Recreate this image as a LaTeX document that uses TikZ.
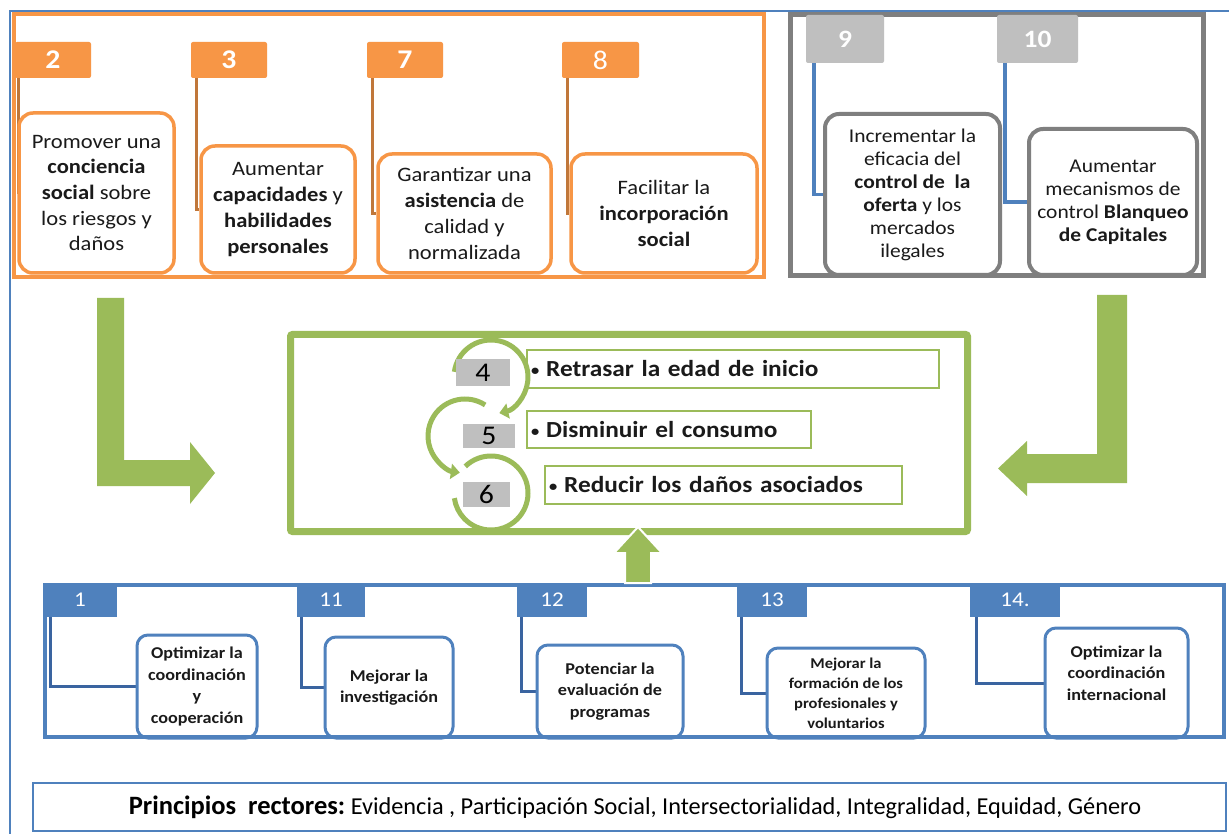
\documentclass[tikz,border=0pt]{standalone}
\usepackage{fontspec}
\setmainfont{Carlito}[FakeStretch=1.1]
\newfontfamily\plainfont{Carlito}
\usetikzlibrary{arrows.meta}
\pgfdeclarelayer{background}
\pgfsetlayers{background,main}
\definecolor{orng}{HTML}{F79646}
\definecolor{orngdk}{HTML}{C0773A}
\definecolor{grytab}{HTML}{BFBFBF}
\definecolor{gryfr}{HTML}{7F7F7F}
\definecolor{grn}{HTML}{9BBB59}
\definecolor{blu}{HTML}{4F81BD}
\definecolor{bludk}{HTML}{3A64A0}
\definecolor{txt}{HTML}{1A1A1A}
\newcommand\otxtfont{\fontsize{20.5}{25.7}\selectfont}
\newcommand\gtxtfont{\fontsize{19.5}{23}\selectfont}
\newcommand\btxtfont{\fontsize{16.5}{21.5}\selectfont\bfseries}
\newcommand\smbul{{\fontsize{15}{15}\selectfont\raisebox{1pt}{\textbullet}}\hspace{7pt}}
\begin{document}
\begin{tikzpicture}[x=1pt,y=-1pt,
  obox/.style={draw=orng, line width=3.5pt, fill=white, rounded corners=14pt, align=center, text=txt, font=\otxtfont, inner sep=0pt},
  gbox/.style={draw=gryfr, line width=4pt, fill=white, rounded corners=14pt, align=center, text=txt, font=\gtxtfont, inner sep=0pt},
  bbox/.style={draw=blu, line width=3pt, fill=white, rounded corners=11pt, align=center, text=txt, font=\btxtfont, inner sep=0pt},
  otab/.style={fill=orng, rounded corners=2pt, text=white, font=\fontsize{27}{27}\selectfont\bfseries, minimum height=36pt, inner sep=0pt},
  gtab/.style={fill=grytab, rounded corners=2pt, text=white, font=\fontsize{25}{25}\selectfont\bfseries, minimum height=48pt, inner sep=0pt},
  btab/.style={fill=blu, text=white, font=\fontsize{21}{21}\selectfont, minimum height=34pt, inner sep=0pt},
  oconn/.style={draw=orngdk, line width=3pt},
  gconn/.style={draw=blu, line width=3.5pt},
  bconn/.style={draw=bludk, line width=3pt},
  gtxt/.style={draw=grn, line width=1.5pt, fill=white, align=left, inner sep=4pt, text=txt, font=\fontsize{23}{24}\selectfont\bfseries},
  nbox/.style={fill=grytab, text=black, font=\fontsize{27}{27}\selectfont, inner sep=0pt},
  carc/.style={draw=grn, line width=5pt},
  garrow/.style={fill=grn}
]
\begin{pgfonlayer}{background}
\fill[white] (0,0) rectangle (1229,834);
\end{pgfonlayer}
\useasboundingbox (0,0) rectangle (1229,834);

% outer thin frame
\draw[blu, line width=2pt] (10,834) -- (10,11) -- (1229,11);

% orange group
\draw[orng, line width=4pt] (14,14.5) rectangle (763.5,277.5);
\node[otab, minimum width=76pt] (t2) at (53,60) {2};
\node[otab, minimum width=76pt] (t3) at (229,60) {3};
\node[otab, minimum width=76pt] (t7) at (405,60) {7};
\node[otab, minimum width=77pt, font=\fontsize{27}{27}\selectfont] (t8) at (600.5,60) {8};

\node[obox, minimum width=155pt, minimum height=160pt] (b2) at (96.5,193)
  {Promover una\\\textbf{conciencia}\\\textbf{social} sobre\\los riesgos y\\daños};
\node[obox, minimum width=154pt, minimum height=127pt] (b3) at (278,209.5)
  {Aumentar\\\textbf{capacidades} y\\\textbf{habilidades}\\\textbf{personales}};
\node[obox, minimum width=173pt, minimum height=119pt] (b7) at (464.5,213.5)
  {Garantizar una\\\textbf{asistencia} de\\calidad y\\normalizada};
\node[obox, minimum width=186pt, minimum height=119pt] (b8) at (664,213.5)
  {Facilitar la\\\textbf{incorporación}\\\textbf{social}};

% grey group
\draw[gryfr, line width=5pt] (790.5,15) rectangle (1203,276);
\node[gtab, minimum width=78pt] (t9) at (845,39) {9};
\node[gtab, minimum width=81pt] (t10) at (1037.5,39) {10};
\node[gbox, minimum width=175pt, minimum height=161pt] (g9) at (912.5,194.5)
  {Incrementar la\\eficacia del\\\textbf{control de\ \ la}\\\textbf{oferta} y los\\mercados\\ilegales};
\node[gbox, minimum width=168pt, minimum height=146pt] (g10) at (1113,202)
  {Aumentar\\mecanismos de\\control \textbf{Blanqueo}\\\textbf{de Capitales}};

% connectors (behind)
\begin{pgfonlayer}{background}
\draw[oconn] ([xshift=4pt]t2.south west) |- (b2.west);
\draw[oconn] ([xshift=6pt]t3.south west) |- (b3.west);
\draw[oconn] ([xshift=6pt]t7.south west) |- (b7.west);
\draw[oconn] ([xshift=6pt]t8.south west) |- (b8.west);
\draw[gconn] ([xshift=8pt]t9.south west) |- (g9.west);
\draw[gconn] ([xshift=8pt]t10.south west) |- (g10.west);
\end{pgfonlayer}

% green bent arrows
\fill[garrow] (97,298) -- (124,298) -- (124,460) -- (190,460) -- (190,442) -- (215,473)
  -- (190,504) -- (190,486) -- (97,486) -- cycle;
\fill[garrow] (1127,295) -- (1097,295) -- (1097,454) -- (1027,454) -- (1027,441) -- (998,468.5)
  -- (1027,496) -- (1027,483) -- (1127,483) -- cycle;

% green central frame
\draw[grn, line width=7pt, rounded corners=2pt] (290.5,334.5) rectangle (967.5,531.5);
\node[gtxt, text width=404pt, minimum height=38pt] (r4) at (733,369) {\smbul Retrasar la edad de inicio};
\node[gtxt, text width=276pt, minimum height=37pt] (r5) at (669,429.5) {\smbul Disminuir el consumo};
\node[gtxt, text width=349pt, minimum height=38pt] (r6) at (723.5,485) {\smbul Reducir los daños asociados};

\coordinate (c1) at (491,377);
\coordinate (c2) at (465,436);
\coordinate (c3) at (491,493);
\draw[carc, -{Triangle[width=15pt,length=9pt]}] ([shift={(188:37)}]c1) arc[start angle=188, end angle=437, radius=37];
\draw[carc, -{Triangle[width=15pt,length=9pt]}] ([shift={(303:37)}]c2) arc[start angle=303, end angle=98, radius=37];
\draw[carc] ([shift={(226:37)}]c3) arc[start angle=226, end angle=532, radius=37];

\node[nbox, minimum width=54pt, minimum height=27pt] (n4) at (483,372.5) {4};
\node[nbox, minimum width=52pt, minimum height=24pt] (n5) at (489,436) {5};
\node[nbox, minimum width=47pt, minimum height=25pt] (n6) at (486.5,494.5) {6};

% blue group
\node[bbox, minimum width=120pt, minimum height=103pt] (bb1) at (197,686.5)
  {Optimizar la\\coordinación\\y\\cooperación};
\node[bbox, minimum width=128pt, minimum height=101pt] (bb11) at (389,687.5)
  {Mejorar la\\investigación};
\node[bbox, minimum width=146pt, minimum height=93pt] (bb12) at (610,691.5)
  {Potenciar la\\evaluación de\\programas};
\node[bbox, minimum width=158pt, minimum height=90pt, font=\fontsize{15}{20}\selectfont\bfseries] (bb13) at (846,693)
  {Mejorar la\\formación de los\\profesionales y\\voluntarios};
\node[bbox, minimum width=143pt, minimum height=110pt] (bb14) at (1116.5,683) {};
\node[align=center, text=txt, font=\btxtfont, inner sep=0pt] (bb14t) at (1116.5,673)
  {Optimizar la\\coordinación\\internacional};

\draw[blu, line width=4pt] (45,585) rectangle (1224,737);
\node[btab, minimum width=74pt] (t1) at (80,600) {1};
\node[btab, minimum width=68pt] (t11) at (331,600) {11};
\node[btab, minimum width=70pt] (t12) at (552,600) {12};
\node[btab, minimum width=70pt] (t13) at (772,600) {13};
\node[btab, minimum width=90pt] (t14) at (1015,600) {14.};

\begin{pgfonlayer}{background}
\draw[bconn] ([xshift=8pt]t1.south west) |- (bb1.west);
\draw[bconn] ([xshift=5pt]t11.south west) |- (bb11.west);
\draw[bconn] ([xshift=5pt]t12.south west) |- (bb12.west);
\draw[bconn] ([xshift=5pt]t13.south west) |- (bb13.west);
\draw[bconn] ([xshift=7pt]t14.south west) |- (bb14.west);
\end{pgfonlayer}

% up arrow
\draw[white, line width=2pt, fill=grn] (625,583) -- (625,553) -- (614,553) -- (638,527)
  -- (662,553) -- (651,553) -- (651,583) -- cycle;

% principles
\node[draw=blu, line width=1.5pt, minimum width=1193pt, minimum height=48pt, inner sep=0pt] (pr) at (629.5,807) {};
\node[text=black, inner sep=0pt] (prt) at (635,807)
  {\plainfont\fontsize{26.5}{26.5}\selectfont\bfseries Principios\ \ rectores:\fontsize{24.3}{25}\selectfont\mdseries\ Evidencia , Participación Social, Intersectorialidad, Integralidad, Equidad, Género};
\end{tikzpicture}
\end{document}
